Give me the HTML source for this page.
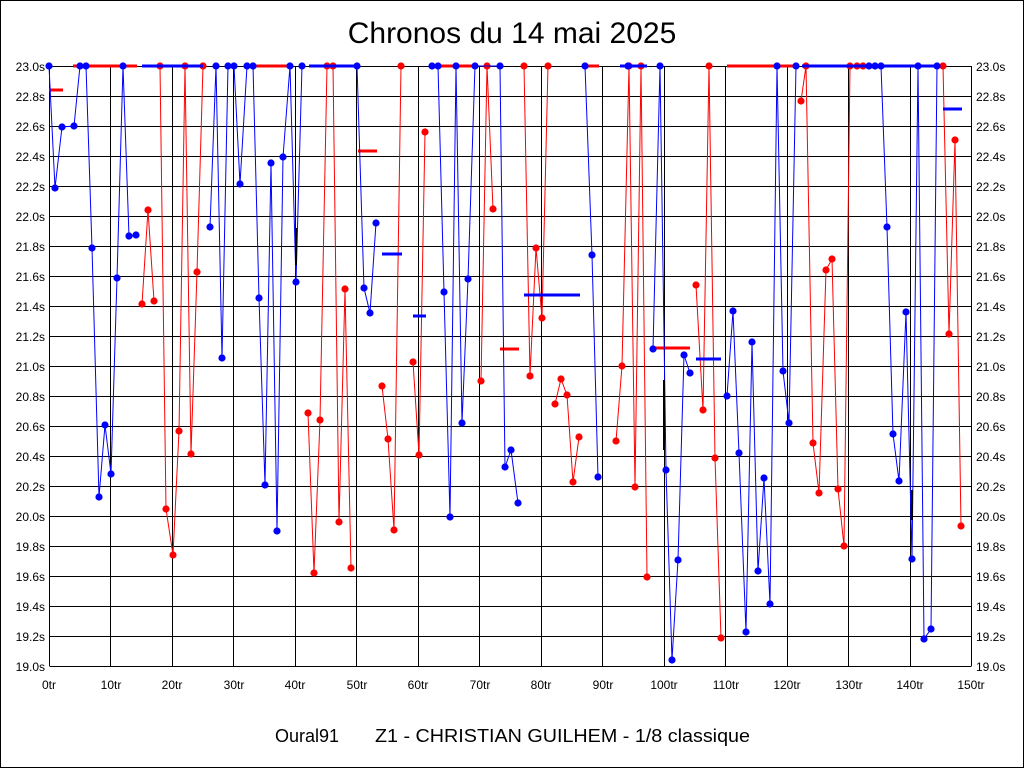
<!DOCTYPE html>
<html><head><meta charset="utf-8"><style>
html,body{margin:0;padding:0;background:#fff;}
svg{display:block;}
text{font-family:"Liberation Sans",Arial,sans-serif;fill:#000;}
</style></head><body>
<svg width="1024" height="768" viewBox="0 0 1024 768" xmlns="http://www.w3.org/2000/svg">
<defs>
<marker id="rd" markerWidth="8" markerHeight="8" refX="4" refY="4" markerUnits="userSpaceOnUse"><circle cx="4" cy="4" r="3.6" fill="#f00"/></marker>
<marker id="bd" markerWidth="8" markerHeight="8" refX="4" refY="4" markerUnits="userSpaceOnUse"><circle cx="4" cy="4" r="3.6" fill="#00f"/></marker>
</defs>
<rect x="0.5" y="0.5" width="1023" height="767" fill="#fff" stroke="#000"/>
<text x="512" y="43" font-size="30" text-anchor="middle">Chronos du 14 mai 2025</text>
<g stroke="#000" stroke-width="1">
<path d="M49.5 66.5H971.5M49.5 96.5H971.5M49.5 126.5H971.5M49.5 156.5H971.5M49.5 186.5H971.5M49.5 216.5H971.5M49.5 246.5H971.5M49.5 276.5H971.5M49.5 306.5H971.5M49.5 336.5H971.5M49.5 366.5H971.5M49.5 396.5H971.5M49.5 426.5H971.5M49.5 456.5H971.5M49.5 486.5H971.5M49.5 516.5H971.5M49.5 546.5H971.5M49.5 576.5H971.5M49.5 606.5H971.5M49.5 636.5H971.5M49.5 666.5H971.5"/>
<path d="M49.5 66V666M110.5 66V666M172.5 66V666M233.5 66V666M295.5 66V666M356.5 66V666M418.5 66V666M479.5 66V666M541.5 66V666M602.5 66V666M664.5 66V666M725.5 66V666M787.5 66V666M848.5 66V666M910.5 66V666M971.5 66V666"/>
</g>
<g font-size="12" text-anchor="end">
<text x="45" y="71">23.0s</text><text x="45" y="101">22.8s</text><text x="45" y="131">22.6s</text><text x="45" y="161">22.4s</text><text x="45" y="191">22.2s</text><text x="45" y="221">22.0s</text><text x="45" y="251">21.8s</text><text x="45" y="281">21.6s</text><text x="45" y="311">21.4s</text><text x="45" y="341">21.2s</text><text x="45" y="371">21.0s</text><text x="45" y="401">20.8s</text><text x="45" y="431">20.6s</text><text x="45" y="461">20.4s</text><text x="45" y="491">20.2s</text><text x="45" y="521">20.0s</text><text x="45" y="551">19.8s</text><text x="45" y="581">19.6s</text><text x="45" y="611">19.4s</text><text x="45" y="641">19.2s</text><text x="45" y="671">19.0s</text>
</g>
<g font-size="12">
<text x="976" y="71">23.0s</text><text x="976" y="101">22.8s</text><text x="976" y="131">22.6s</text><text x="976" y="161">22.4s</text><text x="976" y="191">22.2s</text><text x="976" y="221">22.0s</text><text x="976" y="251">21.8s</text><text x="976" y="281">21.6s</text><text x="976" y="311">21.4s</text><text x="976" y="341">21.2s</text><text x="976" y="371">21.0s</text><text x="976" y="401">20.8s</text><text x="976" y="431">20.6s</text><text x="976" y="461">20.4s</text><text x="976" y="491">20.2s</text><text x="976" y="521">20.0s</text><text x="976" y="551">19.8s</text><text x="976" y="581">19.6s</text><text x="976" y="611">19.4s</text><text x="976" y="641">19.2s</text><text x="976" y="671">19.0s</text>
</g>
<g font-size="12" text-anchor="middle">
<text x="49" y="689">0tr</text><text x="111" y="689">10tr</text><text x="172" y="689">20tr</text><text x="234" y="689">30tr</text><text x="295" y="689">40tr</text><text x="357" y="689">50tr</text><text x="418" y="689">60tr</text><text x="480" y="689">70tr</text><text x="541" y="689">80tr</text><text x="603" y="689">90tr</text><text x="664" y="689">100tr</text><text x="726" y="689">110tr</text><text x="787" y="689">120tr</text><text x="849" y="689">130tr</text><text x="910" y="689">140tr</text><text x="971" y="689">150tr</text>
</g>
<text x="275" y="742" font-size="18">Oural91</text>
<text x="375" y="742" font-size="18" textLength="375" lengthAdjust="spacingAndGlyphs">Z1 - CHRISTIAN GUILHEM - 1/8 classique</text>

<g fill="none" stroke="#f00" stroke-width="1">
<g stroke-width="3">
<path d="M49 90H63M73 66H137M253 66H290M358 151H377M432 66H475M500 349H519M585 66H599M653 348H690M727 66H795M850 66H943"/>
</g>
<g marker-start="url(#rd)" marker-mid="url(#rd)" marker-end="url(#rd)">
<polyline points="142,304 148,210 154,301"/>
<polyline points="160,66 166,509 173,555 179,431 185,66 191,454 197,272 203,66"/>
<polyline points="308,413 314,573 320,420 327,66 333,66 339,522 345,289 351,568"/>
<polyline points="382,386 388,439 394,530 401,66"/>
<polyline points="413,362 419,455 425,132"/>
<polyline points="481,381 487,66 493,209"/>
<polyline points="524,66 530,376 536,248 542,318 548,66"/>
<polyline points="555,404 561,379 567,395 573,482 579,437"/>
<polyline points="616,441 622,366 629,66 635,487 641,66 647,577"/>
<polyline points="696,285 703,410 709,66 715,458 721,638"/>
<polyline points="801,101 806,66 813,443 819,493 826,270 832,259 838,489 844,546 850,66 857,66 863,66"/>
<polyline points="943,66 949,334 955,140 961,526"/>
</g>
</g>

<g fill="none" stroke="#00f" stroke-width="1">
<g stroke-width="3">
<path d="M142 66H203M309 66H357M382 254H402M413 316H426M524 295H580M620 66H647M696 359H721M802 66H850M850 66H937M943 109H962"/>
</g>
<g marker-start="url(#bd)" marker-mid="url(#bd)" marker-end="url(#bd)">
<polyline points="49,66 55,188 62,127 74,126 80,66 86,66 92,248 99,497 105,425 111,474 117,278 123,66 129,236 136,235"/>
<polyline points="210,227 216,66 222,358 228,66 234,66 240,184 247,66 253,66 259,298 265,485 271,163 277,531 283,157 290,66 296,282 302,66"/>
<polyline points="357,66 364,288 370,313 376,223"/>
<polyline points="432,66 438,66 444,292 450,517 456,66 462,423 468,279 475,66 500,66 505,467 511,450 518,503"/>
<polyline points="585,66 592,255 598,477"/>
<polyline points="628,66"/>
<polyline points="653,349 660,66 666,470 672,660 678,560 684,355 690,373"/>
<polyline points="727,396 733,311 739,453 746,632 752,342 758,571 764,478 770,604 777,66 783,371 789,423 796,66"/>
<polyline points="869,66 875,66 881,66 887,227 893,434 899,481 906,312 912,559 918,66 924,639 931,629 937,66"/>
</g>
</g>
<g stroke="#000" stroke-width="2"><path d="M296 228V265M664 380V450M912 490V520"/></g>
</svg>
</body></html>
